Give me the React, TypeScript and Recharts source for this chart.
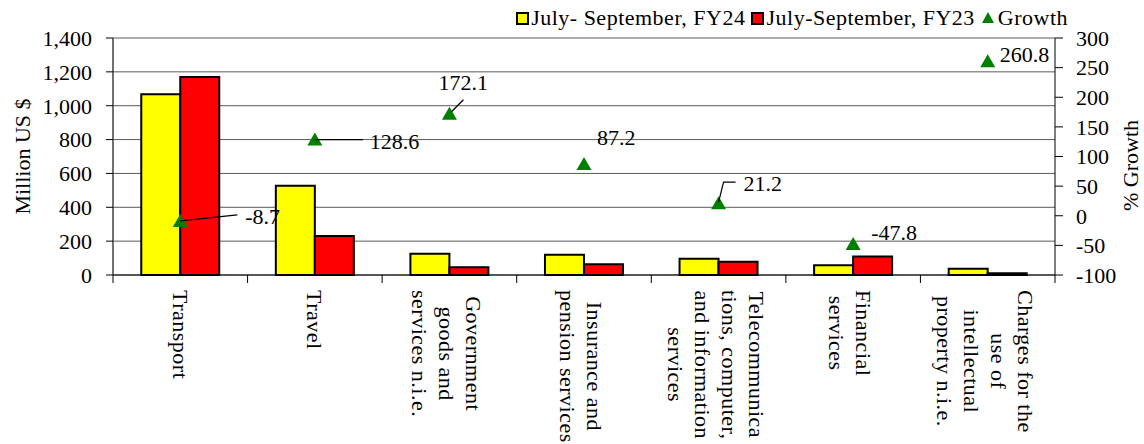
import React from "react";
import {
  ComposedChart,
  Bar,
  Line,
  XAxis,
  YAxis,
  CartesianGrid,
} from "recharts";

// categories and values
const categories = [
  "Transport",
  "Travel",
  "Government\ngoods and\nservices n.i.e.",
  "Insurance and\npension services",
  "Telecommunica\ntions, computer,\nand information\nservices",
  "Financial\nservices",
  "Charges for the\nuse of\nintellectual\nproperty n.i.e.",
];
const fy24 = [1068, 527, 126, 120, 96, 57, 37];
const fy23 = [1170, 230, 46, 64, 79, 109, 10];
const growth = [-8.7, 128.6, 172.1, 87.2, 21.2, -47.8, 260.8];

const leftTicks = [0, 200, 400, 600, 800, 1000, 1200, 1400];
const rightTicks = [-100, -50, 0, 50, 100, 150, 200, 250, 300];

const data = categories.map((name, i) => ({
  name,
  fy24: fy24[i],
  fy23: fy23[i],
  growth: growth[i],
}));

// where each growth label sits relative to its marker, and its leader line
const labelLayout = [
  { dx: 65, dy: -4, leader: [[0, 0], [57, -6]] },
  { dx: 55, dy: 2, leader: [[0, 0], [48, 0]] },
  { dx: -11, dy: -31, leader: [[2, -2], [14, -14]] },
  { dx: 13, dy: -27, leader: null },
  { dx: 25, dy: -20, leader: [[0, -1], [5, -21], [17, -21]] },
  { dx: 18, dy: -12, leader: null },
  { dx: 12, dy: -7, leader: null },
];

const FONT = "Liberation Serif, DejaVu Serif, Noto Serif, Times New Roman, serif";
const FS = 22;
const W = 1144;
const H = 444;
const LEFT_W = 113;
const RIGHT_W = 89;
const PLOT_W = W - LEFT_W - RIGHT_W;
const BAND = PLOT_W / categories.length;

let ctx: CanvasRenderingContext2D | null = null;
const measure = (s: string) => {
  if (!ctx) ctx = document.createElement("canvas").getContext("2d");
  if (!ctx) return s.length * FS * 0.45;
  ctx.font = `${FS}px ${FONT}`;
  return ctx.measureText(s).width + s.length * 0.5;
};

const CategoryTick = (props: any) => {
  const { x, y, payload, index } = props;
  const lines: string[] = String(payload.value).split("\n");
  const axisY = y - 8;
  const maxW = Math.max(...lines.map(measure));
  const lineH = 27;
  const n = lines.length;
  const shift = n > 1 ? -3 : 0;
  return (
    <g>
      <line x1={x - BAND / 2} x2={x - BAND / 2} y1={axisY} y2={axisY + 8} stroke="#000" />
      {index === categories.length - 1 && (
        <line x1={x + BAND / 2} x2={x + BAND / 2} y1={axisY} y2={axisY + 8} stroke="#000" />
      )}
      <g transform={`translate(${x + shift},${axisY + 15}) rotate(90)`}>
        {lines.map((ln, i) => (
          <text
            key={i}
            x={maxW / 2}
            y={(i - (n - 1) / 2) * lineH}
            textAnchor="middle"
            dominantBaseline="central"
            style={{ fontFamily: FONT, fontSize: FS, letterSpacing: 0.5 }}
            fill="#000"
          >
            {ln}
          </text>
        ))}
      </g>
    </g>
  );
};

const Triangle = (props: any) => {
  const { cx, cy, index } = props;
  if (cx == null || cy == null) return <g key={index} />;
  return (
    <path
      key={index}
      d={`M${cx},${cy - 7} L${cx + 7.5},${cy + 6} L${cx - 7.5},${cy + 6} Z`}
      fill="#008000"
    />
  );
};

const GrowthLabel = (props: any) => {
  const { x, y, value, index } = props;
  const l = labelLayout[index];
  if (!l) return null;
  return (
    <g>
      {l.leader && (
        <polyline
          points={l.leader.map(([a, b]) => `${x + a},${y + b}`).join(" ")}
          fill="none"
          stroke="#000"
          strokeWidth={1.2}
        />
      )}
      <text
        x={x + l.dx}
        y={y + l.dy}
        dominantBaseline="central"
        style={{ fontFamily: FONT, fontSize: FS }}
        fill="#000"
      >
        {value}
      </text>
    </g>
  );
};

const LegendBox = ({ color }: { color: string }) => (
  <span
    style={{
      display: "inline-block",
      width: 9,
      height: 9,
      background: color,
      border: "2px solid #000",
      marginRight: 2,
    }}
  />
);

const tickStyle = { fill: "#000", fontSize: FS, fontFamily: FONT };

export default function App() {
  return (
    <div
      style={{
        position: "absolute",
        left: 0,
        top: 0,
        width: W,
        height: H,
        background: "#fff",
        fontFamily: FONT,
      }}
    >
      <ComposedChart
        width={W}
        height={H}
        data={data}
        margin={{ top: 38, right: 0, bottom: 0, left: 0 }}
        barCategoryGap="21%"
        barGap={0}
        style={{ fontFamily: FONT }}
      >
        <CartesianGrid yAxisId="left" vertical={false} stroke="#5a5a5a" />
        <XAxis
          dataKey="name"
          height={169}
          interval={0}
          tickLine={false}
          axisLine={{ stroke: "#000" }}
          tick={<CategoryTick />}
        />
        <YAxis
          yAxisId="left"
          width={LEFT_W}
          domain={[0, 1400]}
          ticks={leftTicks}
          interval={0}
          tickSize={7}
          tickMargin={14}
          tickFormatter={(v: number) => v.toLocaleString("en-US")}
          tick={tickStyle}
          axisLine={{ stroke: "#404040", strokeWidth: 1.5 }}
          tickLine={{ stroke: "#000" }}
          label={{
            value: "Million US $",
            angle: -90,
            position: "center",
            dx: -34,
            fill: "#000",
            fontSize: FS,
            fontFamily: FONT,
          }}
        />
        <YAxis
          yAxisId="right"
          orientation="right"
          width={RIGHT_W}
          domain={[-100, 300]}
          ticks={rightTicks}
          interval={0}
          tickSize={8}
          tickMargin={13}
          tick={tickStyle}
          axisLine={{ stroke: "#000" }}
          tickLine={{ stroke: "#000" }}
          label={{
            value: "% Growth",
            angle: -90,
            position: "center",
            dx: 31,
            dy: 9,
            fill: "#000",
            fontSize: FS,
            fontFamily: FONT,
          }}
        />
        <Bar
          yAxisId="left"
          dataKey="fy24"
          fill="#FFFF00"
          stroke="#000"
          strokeWidth={2}
          isAnimationActive={false}
        />
        <Bar
          yAxisId="left"
          dataKey="fy23"
          fill="#FF0000"
          stroke="#000"
          strokeWidth={2}
          isAnimationActive={false}
        />
        <Line
          yAxisId="right"
          dataKey="growth"
          stroke="none"
          dot={<Triangle />}
          activeDot={false}
          label={<GrowthLabel />}
          isAnimationActive={false}
        />
      </ComposedChart>
      <div
        style={{
          position: "absolute",
          top: 5,
          right: 76,
          display: "flex",
          alignItems: "center",
          fontSize: FS,
          letterSpacing: 0.5,
          whiteSpace: "nowrap",
          lineHeight: "26px",
        }}
      >
        <LegendBox color="#FFFF00" />
        <span>July- September, FY24</span>
        <span style={{ width: 6 }} />
        <LegendBox color="#FF0000" />
        <span>July-September, FY23</span>
        <span style={{ width: 6 }} />
        <svg width={14} height={12} style={{ marginRight: 3 }}>
          <path d="M7,0 L13,11 L1,11 Z" fill="#008000" />
        </svg>
        <span>Growth</span>
      </div>
    </div>
  );
}
